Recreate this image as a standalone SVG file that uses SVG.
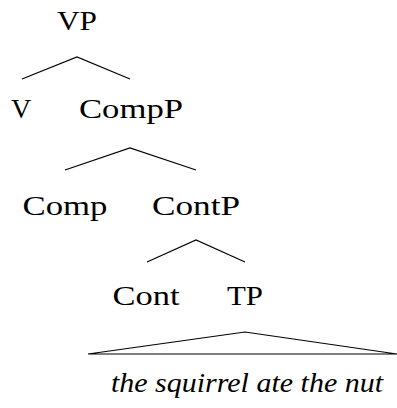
<svg xmlns="http://www.w3.org/2000/svg" width="397" height="408" viewBox="0 0 397 408">
<style>
text{font-family:'Liberation Serif','Times New Roman',serif;font-size:28px;fill:#000;text-anchor:middle}
.it{font-style:italic}
.e{stroke:#000;stroke-width:1.2;fill:none}
</style>
<rect width="397" height="408" fill="#fff"/>
<g id="connectors">
<polyline class="e" points="22,79 77,57 130,79"/>
<polyline class="e" points="65,170 130,148 196,170"/>
<polyline class="e" points="147,262 196,240 245,262"/>
<polygon class="e" points="88,354 245,332 397,354"/>
</g>
<g id="n-VP"><text x="77" y="30" textLength="40" lengthAdjust="spacingAndGlyphs">VP</text></g>
<g id="n-V"><text x="21" y="118">V</text></g>
<g id="n-CompP"><text x="131" y="118" textLength="104" lengthAdjust="spacingAndGlyphs">CompP</text></g>
<g id="n-Comp"><text x="65" y="215" textLength="85" lengthAdjust="spacingAndGlyphs">Comp</text></g>
<g id="n-ContP"><text x="196" y="215" textLength="88" lengthAdjust="spacingAndGlyphs">ContP</text></g>
<g id="n-Cont"><text x="146" y="305" textLength="67" lengthAdjust="spacingAndGlyphs">Cont</text></g>
<g id="n-TP"><text x="245" y="305" textLength="36" lengthAdjust="spacingAndGlyphs">TP</text></g>
<g id="n-words"><text class="it" x="247" y="392" textLength="272" lengthAdjust="spacingAndGlyphs">the squirrel ate the nut</text></g>
</svg>
